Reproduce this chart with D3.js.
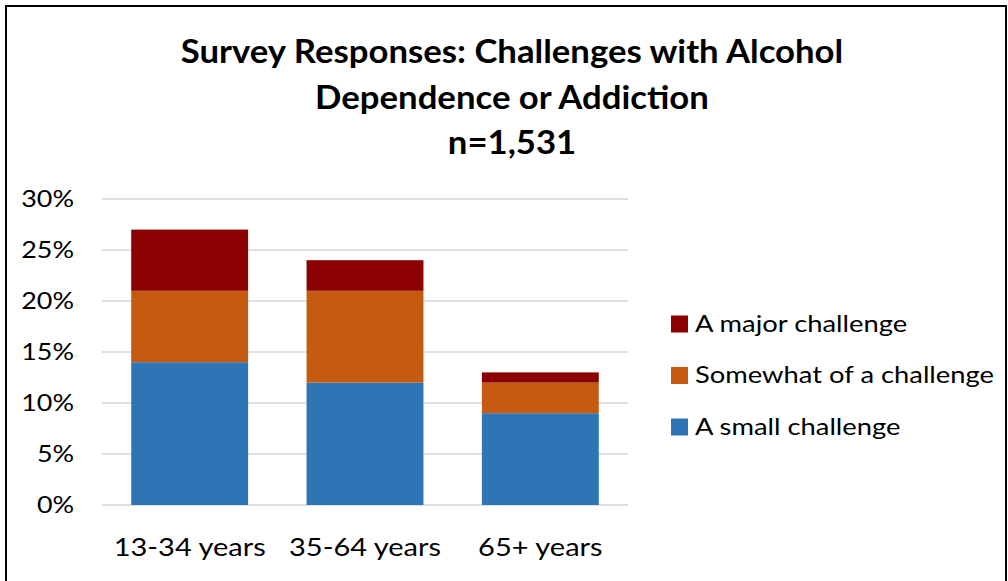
<!DOCTYPE html>
<html>
<head>
<meta charset="utf-8">
<script src="https://cdn.jsdelivr.net/npm/d3@7"></script>
<style>
  body { margin: 0; background: #fff; }
  svg { display: block; font-family: Lato, "Open Sans", sans-serif; }
</style>
</head>
<body>
<div id="chart"></div>
<script>
// chart data
const categories = ['13-34 years', '35-64 years', '65+ years'];
const seriesNames = ['A small challenge', 'Somewhat of a challenge', 'A major challenge'];
const smallChallenge = [14, 12, 9];
const somewhatChallenge = [7, 9, 3];
const majorChallenge = [6, 3, 1];
const yTicks = [0, 5, 10, 15, 20, 25, 30];
const titleLines = ['Survey Responses: Challenges with Alcohol', 'Dependence or Addiction', 'n=1,531'];

const colors = ['#2E75B6', '#C55A11', '#8B0000'];
const width = 1008, height = 581;

// the reference font runs wider than Lato, so widen text a bit
function widen(sel, factor) {
    sel.each(function() {
        let len = this.getComputedTextLength();
        d3.select(this)
            .attr('textLength', len * factor)
            .attr('lengthAdjust', 'spacingAndGlyphs');
    });
}

const svg = d3.select('#chart').append('svg')
    .attr('width', width)
    .attr('height', height);

svg.append('rect')
    .attr('width', width).attr('height', height)
    .attr('fill', '#fff');

// outer frame
svg.append('path')
    .attr('d', `M6,${height} V6 H1006 V${height}`)
    .attr('fill', 'none')
    .attr('stroke', '#000')
    .attr('stroke-width', 2);

// title
const title = svg.append('g')
    .selectAll('text')
    .data(titleLines)
    .enter()
    .append('text')
    .attr('text-anchor', 'middle')
    .attr('x', 512)
    .attr('y', (d, i) => 63 + i * 45.5)
    .style('font-weight', 'bold')
    .style('font-size', '32px')
    .style('fill', '#000')
    .text(d => d);
widen(title, 1.085);

const rows = categories.map((c, i) => ({
    category: c,
    'A small challenge': smallChallenge[i],
    'Somewhat of a challenge': somewhatChallenge[i],
    'A major challenge': majorChallenge[i]
}));
const stacked = d3.stack().keys(seriesNames)(rows);

const x = d3.scaleBand()
    .domain(categories)
    .range([102, 628])
    .paddingInner(1 / 3)
    .paddingOuter(1 / 6);

const y = d3.scaleLinear()
    .domain([0, 30])
    .range([505, 199]);

// gridlines
svg.append('g')
    .selectAll('line')
    .data(yTicks)
    .enter()
    .append('line')
    .attr('x1', 102).attr('x2', 628)
    .attr('y1', d => y(d)).attr('y2', d => y(d))
    .attr('stroke', '#DDE1E7')
    .attr('stroke-width', 2);

// y axis labels
const yAxis = d3.axisLeft(y)
    .tickValues(yTicks)
    .tickFormat(d => d + '%')
    .tickSize(0)
    .tickPadding(0);
const yg = svg.append('g')
    .attr('transform', 'translate(74,0)')
    .call(yAxis);
yg.select('.domain').remove();
yg.selectAll('text')
    .attr('dy', 7.5)
    .style('font-family', 'Lato, sans-serif')
    .style('font-size', '24px')
    .style('fill', '#000');
widen(yg.selectAll('text'), 1.12);

// bars
svg.append('g')
    .selectAll('g')
    .data(stacked)
    .enter()
    .append('g')
    .attr('fill', (d, i) => colors[i])
    .selectAll('rect')
    .data(d => d)
    .enter()
    .append('rect')
    .attr('x', d => x(d.data.category))
    .attr('width', x.bandwidth())
    .attr('y', d => y(d[1]))
    .attr('height', d => y(d[0]) - y(d[1]));

// x axis labels
const xAxis = d3.axisBottom(x).tickSize(0).tickPadding(0);
const xg = svg.append('g')
    .attr('transform', 'translate(0,556)')
    .call(xAxis);
xg.select('.domain').remove();
xg.selectAll('text')
    .attr('dy', 0)
    .style('font-family', 'Lato, sans-serif')
    .style('font-size', '25px')
    .style('fill', '#000');
widen(xg.selectAll('text'), 1.16);

// legend (reverse order, major on top)
const legendItems = seriesNames.map((n, i) => ({ name: n, color: colors[i] })).reverse();
const item = svg.append('g')
    .selectAll('g')
    .data(legendItems)
    .enter()
    .append('g')
    .attr('transform', (d, i) => `translate(671, ${323.5 + i * 51.5})`);
item.append('rect')
    .attr('x', 0).attr('y', -8)
    .attr('width', 17).attr('height', 17)
    .attr('fill', d => d.color);
const legendText = item.append('text')
    .attr('x', 24).attr('y', 8)
    .style('font-size', '24px')
    .style('fill', '#000')
    .text(d => d.name);
widen(legendText, 1.14);
</script>
</body>
</html>
